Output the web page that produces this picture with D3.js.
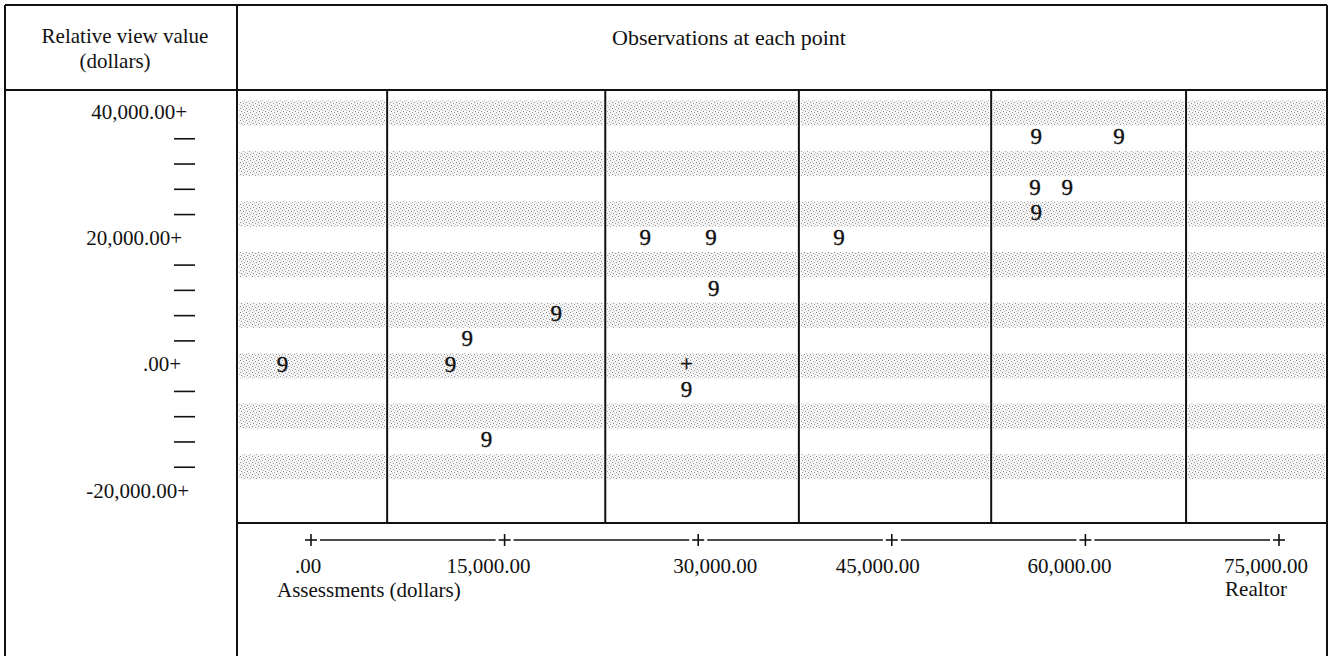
<!DOCTYPE html>
<html>
<head>
<meta charset="utf-8">
<script src="https://cdn.jsdelivr.net/npm/d3@7"></script>
<style>
  html, body { margin: 0; padding: 0; background: #fff; }
  svg { display: block; }
  text { font-family: "Liberation Serif", "Times New Roman", serif; fill: #111; }
</style>
</head>
<body>
<svg id="chart" width="1331" height="656"></svg>
<script>
// ---------------- data ----------------
const xTickValues = [0, 15000, 30000, 45000, 60000, 75000];
const xTickLabels = [".00", "15,000.00", "30,000.00", "45,000.00", "60,000.00", "75,000.00"];
const yTickValues = [40000, 20000, 0, -20000];
const yTickLabels = ["40,000.00+", "20,000.00+", ".00+", "-20,000.00+"];
const yMinorValues = [36000, 32000, 28000, 24000, 16000, 12000, 8000, 4000, -4000, -8000, -12000, -16000];
const stripeValues = [40000, 32000, 24000, 16000, 8000, 0, -8000, -16000];
const columnBreaks = [5900, 22800, 37800, 52700, 67800];

const pointX = [-2200, 10800, 12100, 13600, 19000, 25900, 31000, 31200, 29100, 29100, 40900, 56200, 62600, 56100, 58600, 56200];
const pointY = [0, 0, 4000, -12000, 8000, 20000, 20000, 12000, 0, -4000, 20000, 36000, 36000, 28000, 28000, 24000];
const pointSymbol = ["9","9","9","9","9","9","9","9","+","9","9","9","9","9","9","9"];

const titleLeft = ["Relative view value", "(dollars)"];
const titleRight = "Observations at each point";
const xAxisTitle = "Assessments (dollars)";
const xAxisNote = "Realtor";

// ---------------- layout ----------------
const W = 1331, H = 656;
const frameL = 5, frameT = 5, frameR = 1327, headerB = 90, leftColR = 237, plotB = 523;
const axisY = 540;
const xLabelDx = [-3, -16, 17, -14, -16, -13];

const svg = d3.select("#chart");

const x = d3.scaleLinear().domain([0, 75000]).range([311, 1279]);
const y = d3.scaleLinear().domain([-20000, 40000]).range([490, 111]);

// stripe texture (dithered dots)
const defs = svg.append("defs");
const pat = defs.append("pattern")
  .attr("id", "dots").attr("patternUnits", "userSpaceOnUse")
  .attr("width", 6).attr("height", 6);
pat.append("rect").attr("width", 6).attr("height", 6).attr("fill", "#f6f6f6");
[[0,0,"#8c8c8c"],[3,1,"#9a9a9a"],[1,3,"#8c8c8c"],[4,4,"#9a9a9a"],[2,5,"#c4c4c4"],[5,2,"#c4c4c4"]].forEach(p => {
  pat.append("rect").attr("x", p[0]).attr("y", p[1]).attr("width", 1).attr("height", 1).attr("fill", p[2]);
});

// column edges in pixel space
const colEdges = [leftColR].concat(columnBreaks.map(v => x(v))).concat([frameR]);
const cols = d3.pairs(colEdges);

// stripes
const stripeG = svg.append("g");
stripeValues.forEach(v => {
  stripeG.selectAll(null).data(cols).enter().append("rect")
    .attr("x", d => d[0] + 2)
    .attr("width", d => d[1] - d[0] - 4)
    .attr("y", y(v + 2000) + 2)
    .attr("height", y(v - 2000) - y(v + 2000))
    .attr("fill", "url(#dots)");
});

// frame lines
const lineG = svg.append("g").attr("stroke", "#111").attr("stroke-width", 2).attr("fill", "none");
lineG.append("line").attr("x1", frameL).attr("x2", frameR).attr("y1", frameT).attr("y2", frameT);
lineG.append("line").attr("x1", frameL).attr("x2", frameR).attr("y1", headerB).attr("y2", headerB);
lineG.append("line").attr("x1", frameL).attr("x2", frameL).attr("y1", frameT).attr("y2", H);
lineG.append("line").attr("x1", frameR).attr("x2", frameR).attr("y1", frameT).attr("y2", H);
lineG.append("line").attr("x1", leftColR).attr("x2", leftColR).attr("y1", frameT).attr("y2", H);
lineG.append("line").attr("x1", leftColR).attr("x2", frameR).attr("y1", plotB).attr("y2", plotB);
lineG.selectAll(null).data(columnBreaks).enter().append("line")
  .attr("x1", d => x(d)).attr("x2", d => x(d))
  .attr("y1", headerB).attr("y2", plotB);

// headers
svg.append("text").attr("x", 125).attr("y", 43).attr("text-anchor", "middle")
  .style("font-size", "21px").text(titleLeft[0]);
svg.append("text").attr("x", 115).attr("y", 68).attr("text-anchor", "middle")
  .style("font-size", "21px").text(titleLeft[1]);
svg.append("text").attr("x", 729).attr("y", 45).attr("text-anchor", "middle")
  .style("font-size", "22px").text(titleRight);

// y axis: major labels
const yMajor = d3.axisLeft(y).tickValues(yTickValues).tickSize(0).tickPadding(0)
  .tickFormat((d, i) => yTickLabels[i]);
const yMajG = svg.append("g").attr("transform", "translate(187,0)").call(yMajor);
yMajG.select(".domain").remove();
yMajG.selectAll("text").attr("dy", null).attr("y", 7)
  .style("font-size", "21px").style("font-family", "Liberation Serif, serif").attr("fill", "#111");
yMajG.selectAll("text").filter((d) => d === 0).attr("dx", -6);
yMajG.selectAll("text").filter((d) => d === -20000).attr("dx", 2);
yMajG.selectAll("text").filter((d) => d === 20000).attr("dx", -5);

// y axis: minor dashes
const yMinor = d3.axisLeft(y).tickValues(yMinorValues).tickSize(21).tickFormat("");
const yMinG = svg.append("g").attr("transform", "translate(195,2)").call(yMinor);
yMinG.select(".domain").remove();
yMinG.selectAll("line").attr("stroke", "#111").attr("stroke-width", 1.6);

// x axis: line segments between "+" marks
const axG = svg.append("g");
axG.selectAll(null).data(d3.pairs(xTickValues)).enter().append("line")
  .attr("x1", d => x(d[0]) + 9).attr("x2", d => x(d[1]) - 9)
  .attr("y1", axisY).attr("y2", axisY)
  .attr("stroke", "#111").attr("stroke-width", 1.6);
// plus marks
const plusG = axG.selectAll(null).data(xTickValues).enter().append("g")
  .attr("transform", d => `translate(${x(d)},${axisY})`);
plusG.append("line").attr("x1", -6).attr("x2", 6).attr("y1", 0).attr("y2", 0)
  .attr("stroke", "#111").attr("stroke-width", 1.6);
plusG.append("line").attr("x1", 0).attr("x2", 0).attr("y1", -6).attr("y2", 6)
  .attr("stroke", "#111").attr("stroke-width", 1.6);
// tick labels
axG.selectAll(null).data(xTickValues).enter().append("text")
  .attr("x", (d, i) => x(d) + xLabelDx[i]).attr("y", 573)
  .attr("text-anchor", "middle").style("font-size", "21px")
  .text((d, i) => xTickLabels[i]);
svg.append("text").attr("x", 277).attr("y", 597).style("font-size", "21px").text(xAxisTitle);
svg.append("text").attr("x", 1256).attr("y", 596).attr("text-anchor", "middle")
  .style("font-size", "21px").text(xAxisNote);

// points
svg.append("g").selectAll("text").data(pointX.map((v, i) => ({ x: v, y: pointY[i], s: pointSymbol[i] })))
  .enter().append("text")
  .attr("x", d => x(d.x)).attr("y", d => y(d.y) + (d.s === "+" ? 7 : 8))
  .attr("text-anchor", "middle").style("font-size", "23px")
  .style("stroke", "#111").style("stroke-width", 0.4)
  .text(d => d.s);
</script>
</body>
</html>
